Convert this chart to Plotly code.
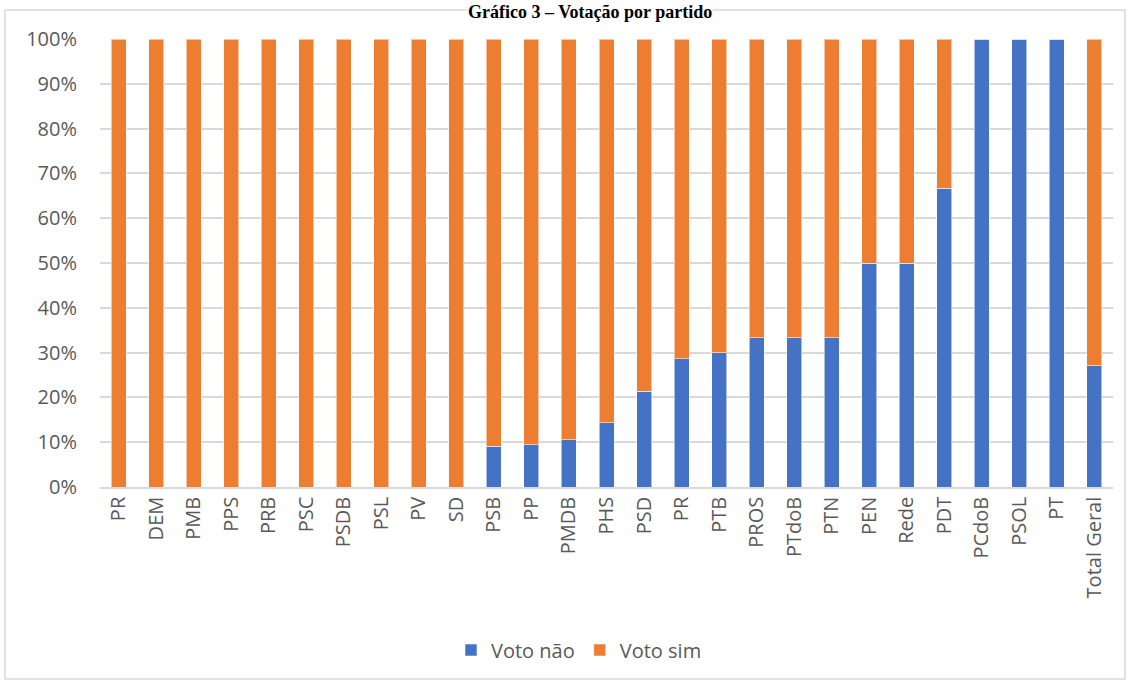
import plotly.graph_objects as go

categories = ["PR", "DEM", "PMB", "PPS", "PRB", "PSC", "PSDB", "PSL", "PV", "SD",
              "PSB", "PP", "PMDB", "PHS", "PSD", "PR", "PTB", "PROS", "PTdoB", "PTN",
              "PEN", "Rede", "PDT", "PCdoB", "PSOL", "PT", "Total Geral"]
voto_nao = [0, 0, 0, 0, 0, 0, 0, 0, 0, 0,
            0.091, 0.094, 0.105, 0.143, 0.214, 0.286, 0.30, 0.333, 0.333, 0.333,
            0.50, 0.50, 0.667, 1.0, 1.0, 1.0, 0.271]
voto_sim = [1.0, 1.0, 1.0, 1.0, 1.0, 1.0, 1.0, 1.0, 1.0, 1.0,
            0.909, 0.906, 0.895, 0.857, 0.786, 0.714, 0.70, 0.667, 0.667, 0.667,
            0.50, 0.50, 0.333, 0.0, 0.0, 0.0, 0.729]
y_ticks = [0, 0.1, 0.2, 0.3, 0.4, 0.5, 0.6, 0.7, 0.8, 0.9, 1.0]

xpos = list(range(len(categories)))
font = "Open Sans, Calibri, sans-serif"
edge = dict(color="rgba(255,255,255,0.55)", width=1)

fig = go.Figure()
fig.add_trace(go.Bar(x=xpos, y=voto_nao, name="Voto não", marker=dict(color="#4472C4", line=edge), width=0.4))
fig.add_trace(go.Bar(x=xpos, y=voto_sim, name="Voto sim", marker=dict(color="#ED7D31", line=edge), width=0.4))

W, H = 1131, 681
L, R, T, B = 100, 18, 39, 194
ph = H - T - B
pw = W - L - R

def px_x(x):
    return (x - L) / pw

def px_y(y):
    return (H - B - y) / ph

fig.update_layout(
    width=W, height=H,
    margin=dict(l=L, r=R, t=T, b=B),
    barmode="stack",
    plot_bgcolor="white", paper_bgcolor="white",
    font=dict(family=font, size=20, color="#595959"),
    showlegend=True,
    legend=dict(orientation="h", x=px_x(579), xanchor="center", y=px_y(650), yanchor="middle",
                font=dict(size=20, color="#595959"), traceorder="normal", itemwidth=30),
    xaxis=dict(range=[-0.5, len(categories) - 0.5], tickmode="array", tickvals=xpos, ticktext=categories,
               tickangle=-90, showgrid=False, showline=True, linecolor="#D9D9D9", linewidth=1.5,
               ticks="", zeroline=False),
    yaxis=dict(range=[0, 1], tickmode="array", tickvals=y_ticks, tickformat=".0%",
               showgrid=True, gridcolor="#D9D9D9", gridwidth=1.5, zeroline=False,
               showline=False, ticks="", ticklabelstandoff=22),
    shapes=[dict(type="rect", xref="paper", yref="paper",
                 x0=px_x(5), x1=px_x(1125), y0=px_y(679), y1=px_y(10),
                 line=dict(color="#D9D9D9", width=1.5), fillcolor="rgba(0,0,0,0)", layer="below")],
    annotations=[dict(text="<b>Gráfico 3 – Votação por partido</b>", xref="paper", yref="paper",
                      x=px_x(590), xanchor="center", y=px_y(1), yanchor="top", showarrow=False,
                      borderpad=0, bgcolor="white",
                      font=dict(family="Liberation Serif, serif", size=18, color="black"))],
)

fig.write_html("out.html")
